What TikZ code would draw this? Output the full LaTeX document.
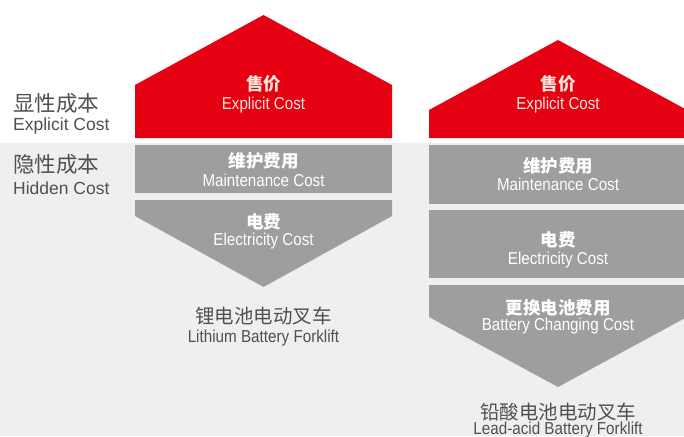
\documentclass[tikz,border=0pt]{standalone}
\usepackage{fontspec}
\setmainfont{Liberation Sans}
\newfontfamily\narrowf{Liberation Sans}[FakeStretch=0.88]
\newfontfamily\cjk{Noto Sans CJK SC}
\definecolor{bgray}{HTML}{EFEFEF}
\definecolor{cred}{HTML}{E50012}
\definecolor{blk}{HTML}{9E9E9E}
\definecolor{cream}{HTML}{FBE6D8}
\definecolor{lbl}{HTML}{505050}
\tikzset{
  redblk/.style={fill=cred,draw=none},
  grayblk/.style={fill=blk,draw=none},
  zh/.style={inner sep=0pt,font=\cjk\bfseries\fontsize{17.5}{19}\selectfont},
  en/.style={inner sep=0pt,font=\narrowf\fontsize{17.2}{19}\selectfont},
  onred/.style={text=cream},
  ongray/.style={text=white},
  sidezh/.style={inner sep=0pt,anchor=west,text=lbl,font=\cjk\fontsize{21.5}{23}\selectfont},
  sideen/.style={inner sep=0pt,anchor=west,text=lbl,font=\fontsize{17.5}{19}\selectfont},
  capzh/.style={inner sep=0pt,text=lbl,font=\cjk\fontsize{19.5}{21}\selectfont},
  capen/.style={inner sep=0pt,text=lbl,font=\narrowf\fontsize{17.3}{19}\selectfont},
}
\begin{document}
\begin{tikzpicture}[x=1pt,y=-1pt]
\useasboundingbox (0,0) rectangle (684,436);
\clip (0,0) rectangle (684,436);
\fill[white] (0,0) rectangle (684,143);
\fill[bgray] (0,143) rectangle (684,436);
% left column
\path[redblk] (135,138) -- (135,85) -- (263.5,15) -- (392,85) -- (392,138) -- cycle;
\path[grayblk] (135,145) rectangle (392,193);
\path[grayblk] (135,200) -- (135,216) -- (263.5,287) -- (392,216) -- (392,200) -- cycle;
% right column
\path[redblk] (429,138) -- (429,110) -- (558,40) -- (687,110) -- (687,138) -- cycle;
\path[grayblk] (429,145) rectangle (687,204);
\path[grayblk] (429,210) rectangle (687,278);
\path[grayblk] (429,285) -- (429,317) -- (558,387) -- (687,317) -- (687,285) -- cycle;
% side labels
\node[sidezh] (ezh) at (13,103) {显性成本};
\node[sideen] (een) at (13,126) {Explicit Cost};
\node[sidezh] (hzh) at (13,164) {隐性成本};
\node[sideen] (hen) at (13,188) {Hidden Cost};
% left texts
\node[zh,onred] (l1z) at (263.5,84) {售价};
\node[en,onred] (l1e) at (263.5,105) {Explicit Cost};
\node[zh,ongray] (l2z) at (263.5,161) {维护费用};
\node[en,ongray] (l2e) at (263.5,180) {Maintenance Cost};
\node[zh,ongray] (l3z) at (263.5,222) {电费};
\node[en,ongray] (l3e) at (263.5,241) {Electricity Cost};
\node[capzh] (lcz) at (263.5,316) {锂电池电动叉车};
\node[capen] (lce) at (263.5,338) {Lithium Battery Forklift};
% right texts
\node[zh,onred] (r1z) at (558,84) {售价};
\node[en,onred] (r1e) at (558,105) {Explicit Cost};
\node[zh,ongray] (r2z) at (558,166) {维护费用};
\node[en,ongray] (r2e) at (558,184) {Maintenance Cost};
\node[zh,ongray] (r3z) at (558,240) {电费};
\node[en,ongray] (r3e) at (558,260) {Electricity Cost};
\node[zh,ongray] (r4z) at (558,308) {更换电池费用};
\node[en,ongray] (r4e) at (558,326) {Battery Changing Cost};
\node[capzh] (rcz) at (558,412) {铅酸电池电动叉车};
\node[capen] (rce) at (558,430.5) {Lead-acid Battery Forklift};
\end{tikzpicture}
\end{document}
